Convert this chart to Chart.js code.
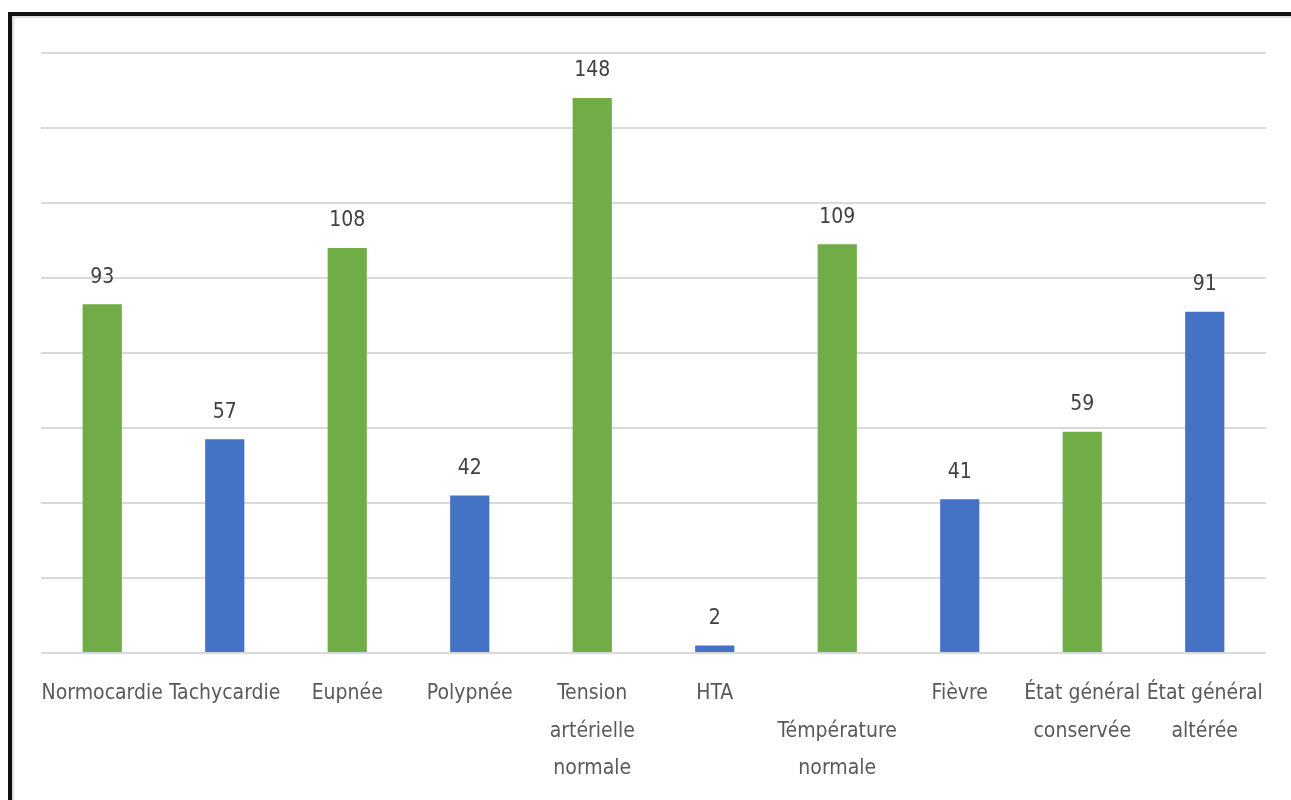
<!DOCTYPE html>
<html lang="fr">
<head>
<meta charset="utf-8">
<title>Signes cliniques</title>
<script src="https://cdn.jsdelivr.net/npm/chart.js@4.4.1/dist/chart.umd.min.js"></script>
<style>
  html, body { margin: 0; padding: 0; background: #fff; }
  #frame {
    position: absolute; left: 8px; top: 12px; width: 1300px; height: 786px;
    border-left: 4px solid #111; border-top: 4px solid #111;
    border-bottom: 1px solid #eee;
    box-shadow: inset 2px 2px 0 #ddd;
  }
  #wrap { position: absolute; left: 0; top: 0; width: 1291px; height: 800px; }
</style>
</head>
<body>
<div id="frame"></div>
<div id="wrap"><canvas id="signesChart"></canvas></div>
<script>
// Effectifs par signe clinique
const categories = [
    'Normocardie', 'Tachycardie', 'Eupnée', 'Polypnée',
    ['Tension', 'artérielle', 'normale'], 'HTA',
    ['', 'Témpérature', 'normale'], 'Fièvre',
    ['État général', 'conservée'], ['État général', 'altérée']
];
const effectifs = [93, 57, 108, 42, 148, 2, 109, 41, 59, 91];
const yTicks = [0, 20, 40, 60, 80, 100, 120, 140, 160];

const VERT = '#70ad47';
const BLEU = '#4472c4';
const FONT = "'Liberation Sans Narrow', 'DejaVu Sans Condensed', sans-serif";

// valeurs au-dessus des barres
const valeursPlugin = {
    id: 'valeurs',
    afterDatasetsDraw(chart) {
        const c = chart.ctx;
        const meta = chart.getDatasetMeta(0);
        c.save();
        c.font = '21px ' + FONT;
        c.fillStyle = '#404040';
        c.textAlign = 'center';
        c.textBaseline = 'middle';
        meta.data.forEach((bar, i) => {
            c.fillText(String(effectifs[i]), bar.x, bar.y - 27);
        });
        c.restore();
    }
};

const ctx = document.getElementById('signesChart').getContext('2d');
new Chart(ctx, {
    type: 'bar',
    data: {
        labels: categories,
        datasets: [{
            data: effectifs,
            backgroundColor: c => (c.dataIndex % 2 ? BLEU : VERT),
            categoryPercentage: 1,
            barPercentage: 0.32
        }]
    },
    options: {
        responsive: true,
        maintainAspectRatio: false,
        animation: false,
        layout: { padding: { left: 41, right: 25, top: 53, bottom: 0 } },
        plugins: {
            legend: { display: false },
            tooltip: { enabled: false }
        },
        scales: {
            x: {
                grid: { display: false },
                border: { display: false },
                afterFit: axis => { axis.height = 147; },
                ticks: {
                    autoSkip: false,
                    maxRotation: 0,
                    minRotation: 0,
                    padding: 14,
                    color: '#595959',
                    font: { family: FONT, size: 21, lineHeight: 1.78 }
                }
            },
            y: {
                min: yTicks[0],
                max: yTicks[yTicks.length - 1],
                afterBuildTicks: axis => { axis.ticks = yTicks.map(v => ({ value: v })); },
                ticks: { display: false },
                border: { display: false },
                grid: { color: '#d9d9d9', lineWidth: 2, drawTicks: false }
            }
        }
    },
    plugins: [valeursPlugin]
});
</script>
</body>
</html>
